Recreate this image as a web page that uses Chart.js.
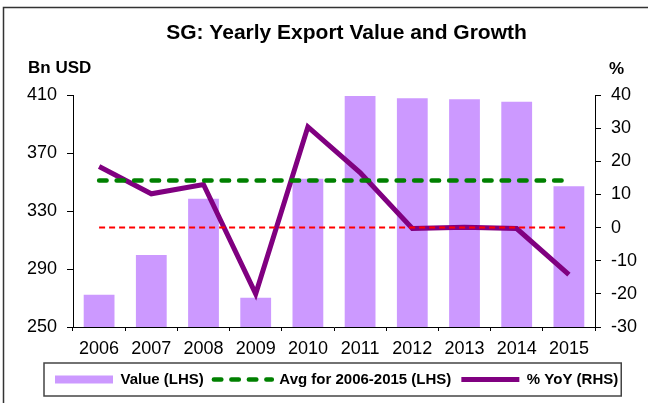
<!DOCTYPE html>
<html><head><meta charset="utf-8">
<script src="https://cdn.jsdelivr.net/npm/chart.js@4"></script>
<style>html,body{margin:0;padding:0;background:#fff}canvas{display:block}</style>
</head><body>
<canvas id="c" width="648" height="403"></canvas>
<script>
const categories = ['2006','2007','2008','2009','2010','2011','2012','2013','2014','2015'];
const exportValue = [272.2, 299.7, 338.5, 270.2, 352.2, 409.3, 407.7, 407.0, 405.4, 347.0];
const avgValue = [351.1, 351.1, 351.1, 351.1, 351.1, 351.1, 351.1, 351.1, 351.1, 351.1];
const yoyGrowth = [18.4, 10.2, 13.0, -20.0, 30.4, 16.6, -0.3, 0.1, -0.3, -14.2];
const zeroLine = [0, 0, 0, 0, 0, 0, 0, 0, 0, 0];
const leftTicks = [250, 290, 330, 370, 410];
const rightTicks = [-30, -20, -10, 0, 10, 20, 30, 40];
const chartTitle = 'SG: Yearly Export Value and Growth';
const leftAxisTitle = 'Bn USD';
const rightAxisTitle = '%';
const seriesNames = ['Value (LHS)', 'Avg for 2006-2015 (LHS)', '% YoY (RHS)', 'Zero'];

const FONT = '"Liberation Sans", Arial, Helvetica, sans-serif';

const decor = {
  id: 'decor',
  afterLayout(chart) {
    // widen the left scale's label area so its tick labels are not clipped
    const ys = chart.scales.y;
    if (ys) ys.left = 0;
  },
  beforeDraw(chart) {
    const ctx = chart.ctx;
    ctx.save();
    ctx.fillStyle = '#fff';
    ctx.fillRect(0, 0, chart.width, chart.height);
    ctx.strokeStyle = '#333';
    ctx.lineWidth = 1.5;
    ctx.beginPath();
    ctx.moveTo(3.5, chart.height);
    ctx.lineTo(3.5, 7.5);
    ctx.lineTo(chart.width, 7.5);
    ctx.stroke();
    ctx.restore();
  },
  afterDraw(chart) {
    const ctx = chart.ctx;
    const ca = chart.chartArea;
    ctx.save();
    ctx.fillStyle = '#000';
    ctx.font = 'bold 17px ' + FONT;
    ctx.textBaseline = 'middle';
    ctx.textAlign = 'left';
    ctx.fillText(leftAxisTitle, ca.left - 45, ca.top - 27);
    ctx.fillText(rightAxisTitle, ca.right + 14, ca.top - 26);
    const lg = chart.legend;
    const hb = lg.legendHitBoxes;
    if (hb && hb.length) {
      const l = Math.min(...hb.map(h => h.left)) - 11;
      const r = Math.max(...hb.map(h => h.left + h.width)) + 3;
      ctx.strokeStyle = '#444';
      ctx.lineWidth = 1.5;
      ctx.strokeRect(l, lg.top + 1, r - l, 33);
    }
    ctx.restore();
  }
};

const tickFont = {family: FONT, size: 18};

new Chart(document.getElementById('c'), {
  data: {
    labels: categories,
    datasets: [
      {type: 'bar', label: seriesNames[0], data: exportValue, backgroundColor: '#CC99FF', borderWidth: 0,
        yAxisID: 'y', barPercentage: 0.59, categoryPercentage: 1, order: 4},
      {type: 'line', label: seriesNames[1], data: avgValue, borderColor: '#008000', backgroundColor: '#008000',
        borderWidth: 4.5, borderDash: [7.5, 10], borderCapStyle: 'round', pointRadius: 0, fill: false,
        yAxisID: 'y', order: 2},
      {type: 'line', label: seriesNames[2], data: yoyGrowth, borderColor: '#800080', backgroundColor: '#800080',
        borderWidth: 5, pointRadius: 0, tension: 0, fill: false, yAxisID: 'y1', order: 3},
      {type: 'line', label: seriesNames[3], data: zeroLine, borderColor: '#FF0000', backgroundColor: '#FF0000',
        borderWidth: 2, borderDash: [6, 4], pointRadius: 0, fill: false, yAxisID: 'y1', order: 1}
    ]
  },
  options: {
    responsive: false,
    devicePixelRatio: 1,
    animation: false,
    events: [],
    layout: {padding: {left: 45, right: 0, top: 0, bottom: 6}},
    plugins: {
      tooltip: {enabled: false},
      title: {display: true, text: chartTitle, color: '#000',
        font: {family: FONT, size: 21, weight: 'bold'}, padding: {top: 21, bottom: 48.8}},
      legend: {
        position: 'bottom', align: 'start',
        labels: {
          font: {family: FONT, size: 15, weight: 'bold'}, color: '#000',
          usePointStyle: true, pointStyleWidth: 58, boxHeight: 8, padding: 10,
          generateLabels: chart => chart.data.datasets.slice(0, 3).map((ds, i) => ({
            text: ds.label,
            fillStyle: ds.type === 'bar' ? ds.backgroundColor : 'rgba(0,0,0,0)',
            strokeStyle: ds.type === 'bar' ? 'rgba(0,0,0,0)' : ds.borderColor,
            lineWidth: ds.type === 'bar' ? 0 : ds.borderWidth,
            lineDash: ds.borderDash || [],
            lineCap: ds.borderCapStyle || 'butt',
            pointStyle: ds.type === 'bar' ? 'rect' : 'line',
            fontColor: '#000',
            hidden: false,
            datasetIndex: i
          }))
        }
      }
    },
    scales: {
      x: {
        type: 'category', offset: true,
        grid: {offset: true, drawOnChartArea: false, drawTicks: true, tickLength: 4, color: '#000', lineWidth: 1},
        border: {display: true, color: '#000', width: 1},
        ticks: {font: tickFont, color: '#000', padding: 7, maxRotation: 0, autoSkip: false},
        afterFit: s => { s.height = 35; }
      },
      y: {
        type: 'linear', position: 'left', min: 250, max: 410,
        afterBuildTicks: s => { s.ticks = leftTicks.map(v => ({value: v})); },
        grid: {drawOnChartArea: false, drawTicks: true, tickLength: 6, color: '#000', lineWidth: 1},
        border: {display: true, color: '#000', width: 1},
        ticks: {font: tickFont, color: '#000', padding: 10},
        afterFit: s => { s.width = 28; }
      },
      y1: {
        type: 'linear', position: 'right', min: -30, max: 40,
        afterBuildTicks: s => { s.ticks = rightTicks.map(v => ({value: v})); },
        grid: {drawOnChartArea: false, drawTicks: true, tickLength: 6, color: '#000', lineWidth: 1},
        border: {display: true, color: '#000', width: 1},
        ticks: {font: tickFont, color: '#000', padding: 10},
        afterFit: s => { s.width = 53; }
      }
    }
  },
  plugins: [decor]
});
</script>
</body></html>
